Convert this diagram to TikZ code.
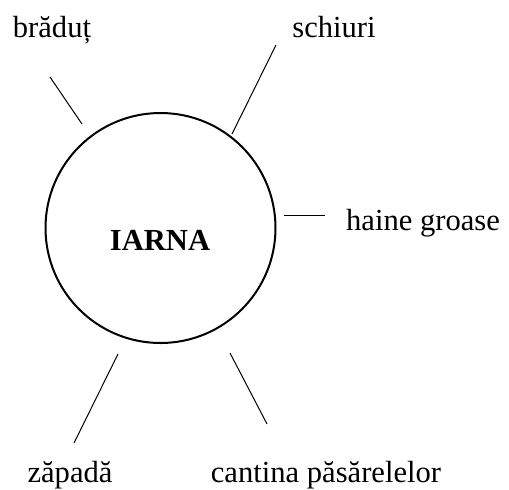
\documentclass[tikz,border=0pt]{standalone}
\usepackage{fontspec}
\setmainfont{Liberation Serif}
\usetikzlibrary{positioning}

\begin{document}
\begin{tikzpicture}[
    x=0.5pt, y=-0.5pt,
    every node/.style={font=\fontsize{15.3}{18}\selectfont},
    word/.style={anchor=base, inner sep=0pt},
    ray/.style={line width=0.5pt},
    ring/.style={draw, circle, line width=1pt, minimum size=115pt, inner sep=0pt}
]
    \useasboundingbox (0,0) rectangle (509,489);

    \node[ring] (winter) at (160.5,228) {};
    \node[word, font=\fontsize{15.3}{18}\selectfont\bfseries] (title) at (160,250) {IARNA};

    \node[word] (tree)  at (52,37)   {brăduț};
    \node[word] (skis)  at (334,37)  {schiuri};
    \node[word] (coats) at (423,230) {haine groase};
    \node[word] (snow)  at (70,482)  {zăpadă};
    \node[word] (birds) at (326,482) {cantina păsărelelor};

    % free ends of the rays
    \coordinate (tree1)  at (50,77);   \coordinate (tree2)  at (82,124);
    \coordinate (skis1)  at (276,45);  \coordinate (skis2)  at (232,134);
    \coordinate (coats1) at (284,215); \coordinate (coats2) at (325,215);
    \coordinate (snow1)  at (118,354); \coordinate (snow2)  at (74,443);
    \coordinate (birds1) at (230,353); \coordinate (birds2) at (267,424);

    \draw[ray] (tree1) -- (tree2);
    \draw[ray] (skis1) -- (skis2);
    \draw[ray] (coats1) -- (coats2);
    \draw[ray] (snow1) -- (snow2);
    \draw[ray] (birds1) -- (birds2);
\end{tikzpicture}
\end{document}
